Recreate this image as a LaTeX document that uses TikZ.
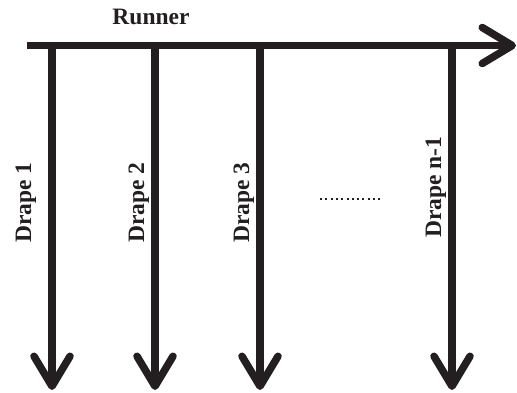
\documentclass[tikz,border=0pt]{standalone}
\usepackage{fontspec}
\setmainfont{Liberation Serif}
\usetikzlibrary{arrows.meta}
\definecolor{ink}{HTML}{231F20}
\tikzset{
  bar/.style={draw=ink, line width=7.5pt,
    -{Straight Barb[length=30pt, width=36pt, line cap=round, line join=round]}},
  lbl/.style={font=\fontsize{23.5}{26}\selectfont\bfseries, text=ink, inner sep=0pt},
  dlbl/.style={lbl, rotate=90, anchor=base west},
}
\begin{document}
\begin{tikzpicture}[x=1pt, y=-1pt]
  \useasboundingbox (0,0) rectangle (517,393);
  % runner
  \coordinate (rs) at (27,45.5);
  \coordinate (re) at (516,45.5);
  \node[lbl] (runner) at (151,17) {Runner};
  % drapes hanging from the runner
  \coordinate (t1) at (52,45.5);  \coordinate (b1) at (52,390);
  \coordinate (t2) at (155,45.5); \coordinate (b2) at (155,390);
  \coordinate (t3) at (260,45.5); \coordinate (b3) at (260,390);
  \coordinate (t4) at (452,45.5); \coordinate (b4) at (452,390);
  \draw[bar] (t1) -- (b1);
  \draw[bar] (t2) -- (b2);
  \draw[bar] (t3) -- (b3);
  \draw[bar] (t4) -- (b4);
  \draw[bar] (rs) -- (re);
  \node[dlbl] (d1) at (31,243) {Drape 1};
  \node[dlbl] (d2) at (144,243) {Drape 2};
  \node[dlbl] (d3) at (249,243) {Drape 3};
  \node[dlbl] (d4) at (441,238) {Drape n-1};
  % ellipsis between drape 3 and drape n-1
  \coordinate (e1) at (320,199);
  \coordinate (e2) at (383,199);
  \draw[ink, line width=2pt, dash pattern=on 2pt off 3.3pt] (e1) -- (e2);
\end{tikzpicture}
\end{document}
